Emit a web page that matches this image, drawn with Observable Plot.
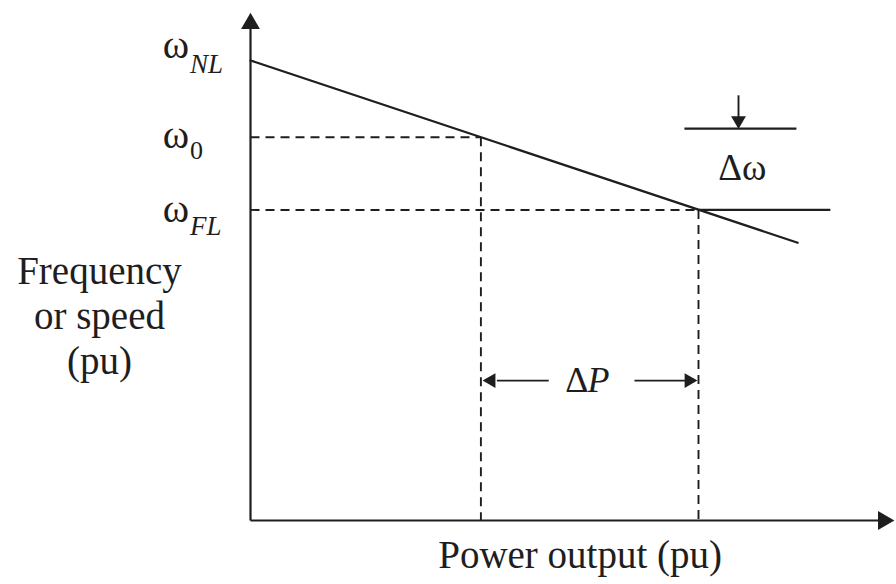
<!DOCTYPE html>
<html>
<head>
<meta charset="utf-8">
<script src="https://cdn.jsdelivr.net/npm/d3@7"></script>
<script src="https://cdn.jsdelivr.net/npm/@observablehq/plot@0.6"></script>
<style>
  html, body { margin: 0; padding: 0; background: #fff; }
  #chart svg { display: block; }
</style>
</head>
<body>
<div id="chart"></div>
<script>
// ---- data (power in arbitrary pu units 0..100, frequency 0..100) ----
const droopP = [0, 85.5];          // governor droop line: power at start / end
const droopW = [91.1, 55.0];       // frequency at start / end
const levelLabels = ["ω0", "ωFL"]; // operating levels
const levelW = [75.9, 61.5];       // ω0, ωFL
const levelP = [36, 70];           // P0, PFL
const wNL = 91.1;                  // no-load frequency
const deltaWTop = 77.6;            // upper bar of Δω marker
const deltaWBarP = [67.8, 85.3];   // extent of upper bar
const deltaWLowerEnd = 90.6;       // extent of lower (ωFL) bar
const deltaWArrowP = 76.25;
const deltaWArrowFrom = 84.2;
const deltaPY = 27.7;              // height of ΔP dimension arrows
const axisLabels = ["Frequency\nor speed\n(pu)", "Power output (pu)"];

const ink = "#1e1e1e";
const font = "Liberation Serif, Times New Roman, serif";
const labelX = -9.6;

const droop = droopP.map((p, i) => ({p, w: droopW[i]}));
const levels = levelLabels.map((l, i) => ({label: l, w: levelW[i], p: levelP[i]}));

const chart = Plot.plot({
  width: 896,
  height: 584,
  marginLeft: 250,
  marginRight: 6,
  marginTop: 15,
  marginBottom: 64,
  x: {domain: [0, 100], axis: null},
  y: {domain: [0, 100], axis: null},
  style: {background: "#fff", fontFamily: font},
  marks: [
    // axes
    Plot.link([{x1: 0, y1: 0, x2: 0, y2: 98}], {x1: "x1", y1: "y1", x2: "x2", y2: "y2", stroke: ink, strokeWidth: 2.2}),
    Plot.link([{x1: 0, y1: 0, x2: 98.5, y2: 0}], {x1: "x1", y1: "y1", x2: "x2", y2: "y2", stroke: ink, strokeWidth: 2.2}),
    Plot.dot([{x: 0, y: 98.4}], {x: "x", y: "y", symbol: "triangle", r: 7, fill: ink, stroke: "none"}),
    Plot.dot([{x: 98.9, y: 0}], {x: "x", y: "y", symbol: "triangle", r: 7, fill: ink, stroke: "none", rotate: 90}),
    // droop line
    Plot.line(droop, {x: "p", y: "w", stroke: ink, strokeWidth: 2.2}),
    // dashed horizontal projections
    Plot.link(levels, {x1: 0, x2: "p", y1: "w", y2: "w", stroke: ink, strokeWidth: 1.9, strokeDasharray: "9,6"}),
    // dashed vertical projections
    Plot.link(levels, {x1: "p", x2: "p", y1: "w", y2: 0, stroke: ink, strokeWidth: 1.9, strokeDasharray: "9,6"}),
    // Δω marker
    Plot.link([{x1: deltaWBarP[0], x2: deltaWBarP[1], y: deltaWTop}], {x1: "x1", x2: "x2", y1: "y", y2: "y", stroke: ink, strokeWidth: 2.2}),
    Plot.link([{x1: levelP[1], x2: deltaWLowerEnd, y: levelW[1]}], {x1: "x1", x2: "x2", y1: "y", y2: "y", stroke: ink, strokeWidth: 2.2}),
    Plot.link([{x: deltaWArrowP, y1: deltaWArrowFrom, y2: deltaWTop + 2}], {x1: "x", x2: "x", y1: "y1", y2: "y2", stroke: ink, strokeWidth: 1.9}),
    Plot.dot([{x: deltaWArrowP, y: deltaWTop + 1.6}], {x: "x", y: "y", symbol: "triangle", r: 5.5, fill: ink, stroke: "none", rotate: 180}),
    Plot.text(["Δω"], {x: deltaWArrowP + 0.6, y: (deltaWTop + levelW[1]) / 2 + 0.3, fontSize: 37, fill: ink, fontFamily: font}),
    // ΔP dimension
    Plot.link([{x1: 46.6, x2: 38.5}, {x1: 60, x2: 68.4}], {x1: "x1", x2: "x2", y1: deltaPY, y2: deltaPY, stroke: ink, strokeWidth: 1.9}),
    Plot.dot([{x: 37.6, r: -90}, {x: 68.5, r: 90}], {x: "x", y: deltaPY, symbol: "triangle", r: 5.5, fill: ink, stroke: "none", rotate: "r"}),
    Plot.text(["Δ"], {x: 52.5, y: deltaPY, fontSize: 36, fill: ink, fontFamily: font, textAnchor: "end", dx: 2}),
    Plot.text(["P"], {x: 52.5, y: deltaPY, fontSize: 36, fill: ink, fontFamily: font, fontStyle: "italic", textAnchor: "start", dx: 1}),
    // ω labels on the y axis
    Plot.text(["ω"], {x: labelX, y: wNL + 3, fontSize: 40, fill: ink, fontFamily: font, textAnchor: "end"}),
    Plot.text(["NL"], {x: labelX, y: wNL - 0.8, fontSize: 27, fill: ink, fontFamily: font, fontStyle: "italic", textAnchor: "start", dx: 1}),
    Plot.text(["ω"], {x: labelX, y: levelW[0] + 0.4, fontSize: 40, fill: ink, fontFamily: font, textAnchor: "end"}),
    Plot.text(["0"], {x: labelX, y: levelW[0] - 2.6, fontSize: 26, fill: ink, fontFamily: font, textAnchor: "start", dx: 1}),
    Plot.text(["ω"], {x: labelX, y: levelW[1] + 0.2, fontSize: 40, fill: ink, fontFamily: font, textAnchor: "end"}),
    Plot.text(["FL"], {x: labelX, y: levelW[1] - 3.2, fontSize: 27, fill: ink, fontFamily: font, fontStyle: "italic", textAnchor: "start", dx: 1}),
    // axis titles
    Plot.text([axisLabels[0]], {x: -23.6, y: 40.8, fontSize: 39, lineHeight: 1.16, fill: ink, fontFamily: font}),
    Plot.text([axisLabels[1]], {x: 51.5, y: -7.0, fontSize: 39, fill: ink, fontFamily: font})
  ]
});

document.getElementById("chart").appendChild(chart);
</script>
</body>
</html>
